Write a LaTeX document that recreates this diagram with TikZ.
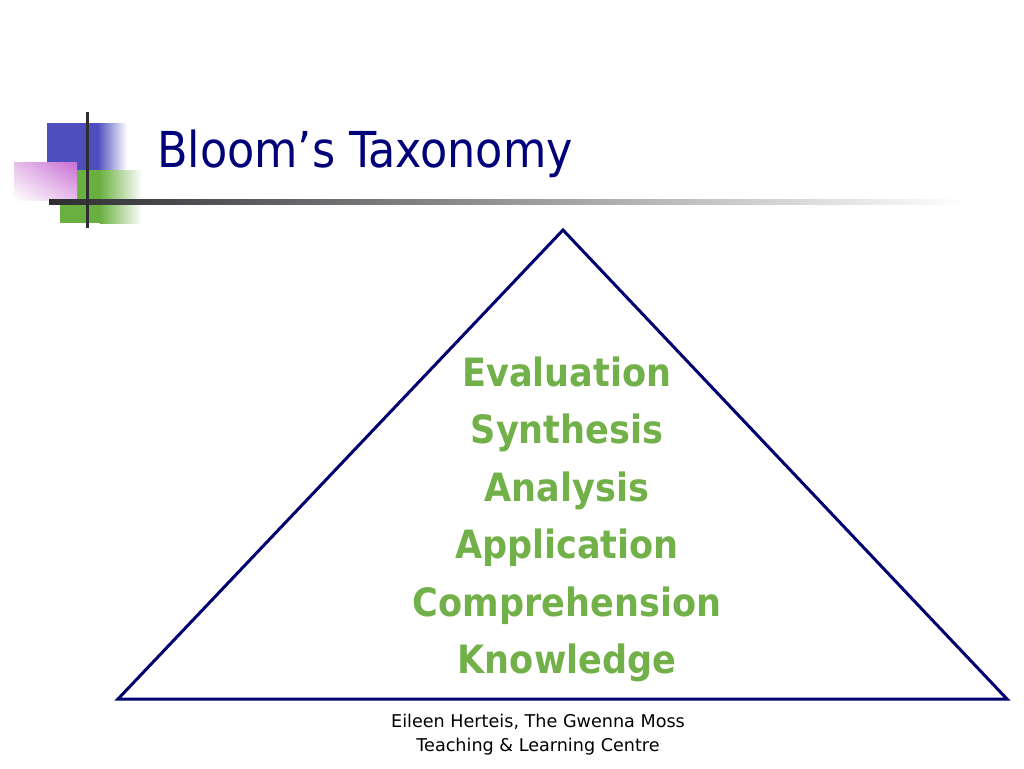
\documentclass[tikz,border=0pt]{standalone}
\usepackage{fontspec}
\setmainfont{DejaVu Sans Condensed}
\newfontfamily\footfont{DejaVu Sans}
\usetikzlibrary{fadings,shadings}
\definecolor{navy}{RGB}{0,0,110}
\definecolor{titlec}{RGB}{0,0,120}
\definecolor{leafgreen}{RGB}{114,176,74}
\definecolor{decoblue}{RGB}{78,78,190}
\definecolor{decogreen}{RGB}{106,176,64}
\definecolor{decopink}{RGB}{200,110,210}
\definecolor{decoline}{RGB}{45,45,50}
\tikzset{
  level/.style={anchor=base, text=leafgreen, font=\fontsize{39}{39}\selectfont\bfseries},
  footer/.style={anchor=base, font=\footfont\fontsize{17.6}{17.6}\selectfont, text=black},
  titletext/.style={anchor=base west, text=titlec, font=\fontsize{49.5}{49.5}\selectfont, inner sep=0pt},
  pyramid/.style={draw=navy, line width=3pt, line join=miter}
}
\begin{document}
\begin{tikzpicture}[x=1pt,y=-1pt]
\useasboundingbox (0,0) rectangle (1024,768);
% decoration
\fill[decoblue] (47,123) rectangle (98,170);
\shade[left color=decoblue, right color=white] (97.5,123) rectangle (127,170);
\fill[decogreen] (60,170) rectangle (100,223);
\shade[left color=decogreen, right color=white] (99.5,170) rectangle (142,223);
\shade[lower left=white, upper right=decopink, lower right=decopink!45, upper left=decopink!45] (14,162) rectangle (77,200);
\shade[left color=decoline, right color=white] (49,199) rectangle (965,204);
\fill[decoline] (85.5,112) rectangle (89,228);
% title
\node[titletext] (title) at (157,167) {Bloom’s Taxonomy};
% pyramid
\coordinate (apex) at (563,230);
\coordinate (bl) at (118,699);
\coordinate (br) at (1007,699);
\draw[pyramid] (apex) -- (bl) -- (br) -- cycle;
% levels
\node[level] (eval) at (567,386) {Evaluation};
\node[level] (synt) at (567,443.5) {Synthesis};
\node[level] (anal) at (567,501) {Analysis};
\node[level] (appl) at (567,558.5) {Application};
\node[level] (comp) at (567,616) {Comprehension};
\node[level] (know) at (567,673.5) {Knowledge};
% footer
\node[footer] (f1) at (538,727) {Eileen Herteis, The Gwenna Moss};
\node[footer] (f2) at (538,751) {Teaching \& Learning Centre};
\end{tikzpicture}
\end{document}
